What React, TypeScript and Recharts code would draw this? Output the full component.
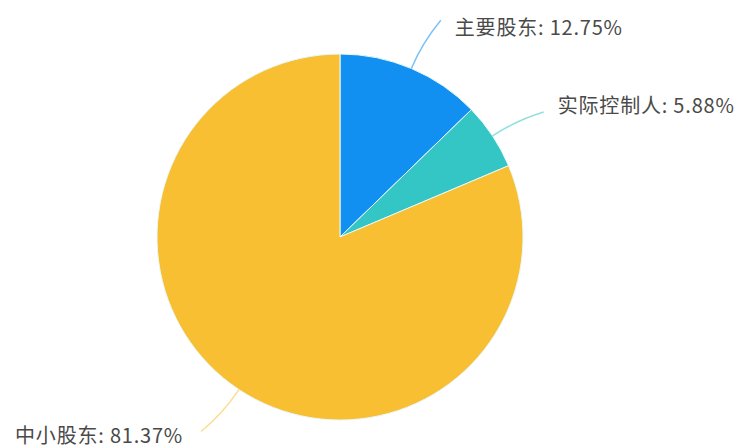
import { PieChart, Pie, Cell } from 'recharts'

const names = ['主要股东', '实际控制人', '中小股东']
const shares = [12.75, 5.88, 81.37]
const colors = ['#1190f2', '#33c6c4', '#f9bf33']

const data = names.map((name, i) => ({ name, value: shares[i] }))

const RAD = Math.PI / 180

const renderLabel = (props: any) => {
  const { cx, cy, midAngle, outerRadius, index } = props
  const at = (r: number, a: number) => ({
    x: cx + r * Math.cos(-a * RAD),
    y: cy + r * Math.sin(-a * RAD),
  })
  const p0 = at(outerRadius, midAngle)
  const p1 = at(outerRadius + 28, midAngle)
  const p2 = at(outerRadius + 56, midAngle - 2)
  const right = p2.x >= cx
  const tx = right ? p2.x + 14 : p2.x - 18
  const ty = p2.y + (index === 0 ? 6 : index === 1 ? -8 : 3)
  return (
    <g>
      <path
        d={`M${p0.x},${p0.y} Q${p1.x},${p1.y} ${p2.x},${p2.y}`}
        stroke={colors[index]}
        strokeOpacity={0.55}
        strokeWidth={1.5}
        fill="none"
      />
      <text
        x={tx}
        y={ty}
        textAnchor={right ? 'start' : 'end'}
        dominantBaseline="central"
        fill="#4a4a4a"
        fontSize={20}
        letterSpacing={0.8}
        fontFamily='"Noto Sans CJK SC", sans-serif'
      >
        {`${names[index]}: ${shares[index].toFixed(2)}%`}
      </text>
    </g>
  )
}

export default function App() {
  return (
    <div style={{ position: 'absolute', left: 0, top: 0, width: 742, height: 448, background: '#fff' }}>
      <PieChart width={742} height={448}>
        <Pie
          data={data}
          dataKey="value"
          cx={335}
          cy={232}
          outerRadius={183}
          startAngle={90}
          endAngle={-270}
          stroke="#e8f8f8"
          strokeWidth={1}
          label={renderLabel}
          labelLine={false}
          isAnimationActive={false}
        >
          {data.map((d, i) => (
            <Cell key={d.name} fill={colors[i]} />
          ))}
        </Pie>
      </PieChart>
    </div>
  )
}
